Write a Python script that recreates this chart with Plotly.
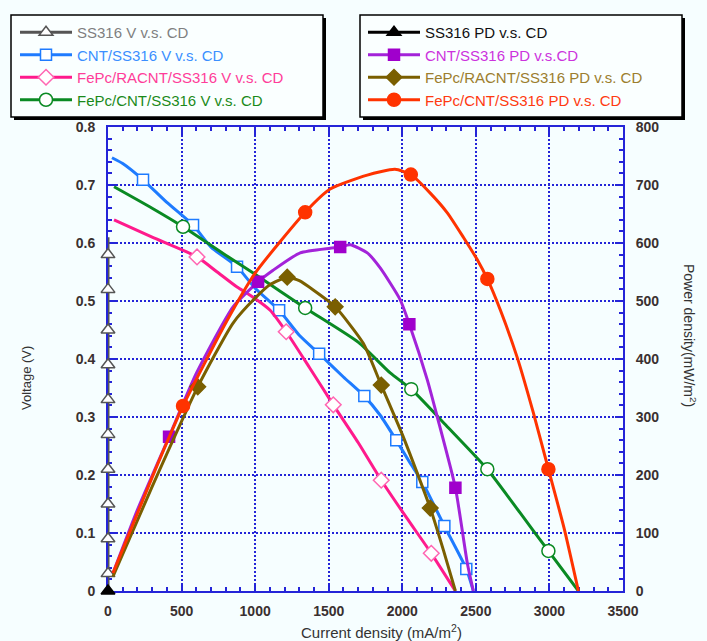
import plotly.graph_objects as go

# ---------------- data ----------------
ss_v_x = [0, 0, 0, 0, 0, 0, 0, 0, 0, 0, 0, 0]
ss_v_y = [0.0, 0.03, 0.09, 0.15, 0.21, 0.27, 0.33, 0.39, 0.45, 0.52, 0.58, 0.61]
ss_v_mx = [0, 0, 0, 0, 0, 0, 0, 0, 0, 0]
ss_v_my = [0.03, 0.09, 0.15, 0.21, 0.27, 0.33, 0.39, 0.45, 0.52, 0.58]

cnt_v_x = [27, 100, 238, 400, 578, 700, 877, 1000, 1163, 1300, 1435, 1600, 1742, 1850, 1959, 2050, 2136, 2286, 2435, 2483]
cnt_v_y = [0.747, 0.737, 0.709, 0.670, 0.631, 0.593, 0.559, 0.522, 0.484, 0.441, 0.409, 0.369, 0.336, 0.303, 0.260, 0.222, 0.188, 0.112, 0.038, 0.0]
cnt_v_mx = [238, 578, 877, 1163, 1435, 1742, 1959, 2136, 2286, 2435]
cnt_v_my = [0.709, 0.631, 0.559, 0.484, 0.409, 0.336, 0.260, 0.188, 0.112, 0.038]

ra_v_x = [41, 300, 605, 742, 877, 966, 1102, 1211, 1370, 1531, 1700, 1857, 2030, 2197, 2361]
ra_v_y = [0.640, 0.610, 0.576, 0.550, 0.524, 0.510, 0.484, 0.447, 0.385, 0.321, 0.256, 0.191, 0.126, 0.065, 0.0]
ra_v_mx = [605, 1211, 1531, 1857, 2197]
ra_v_my = [0.576, 0.447, 0.321, 0.191, 0.065]

fc_v_x = [41, 300, 510, 800, 1000, 1340, 1700, 1918, 2061, 2300, 2578, 2800, 2993, 3197]
fc_v_y = [0.697, 0.660, 0.628, 0.579, 0.546, 0.488, 0.429, 0.376, 0.348, 0.285, 0.210, 0.135, 0.069, 0.0]
fc_v_mx = [510, 1340, 2061, 2578, 2993]
fc_v_my = [0.628, 0.488, 0.348, 0.210, 0.069]

ss_pd_x = [0]
ss_pd_y = [0]

cnt_pd_x = [34, 200, 415, 600, 850, 1020, 1122, 1306, 1510, 1578, 1646, 1762, 1850, 1986, 2048, 2170, 2238, 2361, 2442, 2483]
cnt_pd_y = [31, 140, 266, 375, 490, 533, 553, 583, 591, 593, 597, 583, 557, 502, 460, 364, 300, 178, 48, 0]
cnt_pd_mx = [415, 1020, 1578, 2048, 2361]
cnt_pd_my = [266, 533, 593, 460, 178]

ra_pd_x = [34, 300, 610, 850, 1000, 1100, 1218, 1300, 1395, 1544, 1735, 1857, 2000, 2190, 2280, 2361]
ra_pd_y = [25, 180, 352, 462, 505, 528, 541, 535, 519, 490, 427, 355, 270, 143, 70, 0]
ra_pd_mx = [610, 1218, 1544, 1857, 2190]
ra_pd_my = [352, 541, 490, 355, 143]

fc_pd_x = [34, 300, 510, 800, 1000, 1340, 1510, 1762, 1950, 2058, 2190, 2306, 2415, 2510, 2578, 2667, 2782, 2891, 2993, 3100, 3197]
fc_pd_y = [31, 196, 319, 462, 548, 653, 693, 717, 727, 718, 686, 652, 610, 571, 538, 484, 402, 307, 210, 108, 0]
fc_pd_mx = [510, 1340, 2058, 2578, 2993]
fc_pd_my = [319, 653, 718, 538, 210]

x_ticks = [0, 500, 1000, 1500, 2000, 2500, 3000, 3500]

# ---------------- geometry helpers (pixels -> paper) ----------------
W, H = 707, 641
L, R, T, B = 108, 623, 127, 591


def px(x):
    return (x - L) / (R - L)


def py(y):
    return (B - y) / (B - T)


FONT = "Arial, Liberation Sans, sans-serif"
BG = "#F6FEFF"
AX = "#2424D8"

fig = go.Figure()

series = [
    # name, text colour, x, y, mx, my, line colour, symbol, fill, marker line colour, size, axis, legend
    ("SS316 V v.s. CD", "#7F7F7F", ss_v_x, ss_v_y, ss_v_mx, ss_v_my, "#555555", "triangle-up", "#FFFFFF", "#555555", 12, "y", "legend"),
    ("CNT/SS316 V v.s. CD", "#3B8FFF", cnt_v_x, cnt_v_y, cnt_v_mx, cnt_v_my, "#1E7BFF", "square", "#FFFFFF", "#1E7BFF", 11, "y", "legend"),
    ("FePc/RACNT/SS316 V v.s. CD", "#FF3D99", ra_v_x, ra_v_y, ra_v_mx, ra_v_my, "#FF1A8C", "diamond", "#FFFFFF", "#FF66B2", 12, "y", "legend"),
    ("FePc/CNT/SS316 V v.s. CD", "#1A8A1A", fc_v_x, fc_v_y, fc_v_mx, fc_v_my, "#0A8A23", "circle", "#FFFFFF", "#0A8A23", 13, "y", "legend"),
    ("SS316 PD v.s. CD", "#111111", ss_pd_x, ss_pd_y, ss_pd_x, ss_pd_y, "#000000", "triangle-up", "#000000", "#000000", 12, "y2", "legend2"),
    ("CNT/SS316 PD v.s.CD", "#CC33DD", cnt_pd_x, cnt_pd_y, cnt_pd_mx, cnt_pd_my, "#A323D9", "square", "#A000CC", "#A000CC", 11, "y2", "legend2"),
    ("FePc/RACNT/SS316 PD v.s. CD", "#9C7E2E", ra_pd_x, ra_pd_y, ra_pd_mx, ra_pd_my, "#7A5F00", "diamond", "#7A5F00", "#7A5F00", 12, "y2", "legend2"),
    ("FePc/CNT/SS316 PD v.s. CD", "#FF3A10", fc_pd_x, fc_pd_y, fc_pd_mx, fc_pd_my, "#FF3300", "circle", "#FF3300", "#FF3300", 13, "y2", "legend2"),
]

for name, tcol, x, y, mx, my, lcol, sym, fill, mlcol, size, ax, leg in series:
    if len(x) > 1:
        fig.add_trace(go.Scatter(
            x=x, y=y, mode="lines", yaxis=ax, showlegend=False, cliponaxis=False,
            line=dict(color=lcol, width=3, shape="spline", smoothing=0.55),
            hoverinfo="skip"))
    fig.add_trace(go.Scatter(
        x=mx, y=my, mode="markers", yaxis=ax, showlegend=False, cliponaxis=False,
        marker=dict(symbol=sym, size=size, color=fill, line=dict(color=mlcol, width=1.5))))
    fig.add_trace(go.Scatter(
        x=[None], y=[None], mode="lines+markers", yaxis=ax, legend=leg,
        name=f'<span style="color:{tcol}">{name}</span>',
        line=dict(color=lcol, width=3),
        marker=dict(symbol=sym, size=size, color=fill, line=dict(color=mlcol, width=1.5))))

# legend boxes (shadow + frame)
shapes = []
for (x0, y0, x1, y1) in [(11, 15, 323, 117), (360, 15, 682, 117)]:
    shapes.append(dict(type="rect", xref="paper", yref="paper", layer="above",
                       x0=px(x0 + 3), x1=px(x1 + 3), y0=py(y1 + 3), y1=py(y0 + 3),
                       fillcolor="#000000", line=dict(width=0)))
    shapes.append(dict(type="rect", xref="paper", yref="paper", layer="above",
                       x0=px(x0), x1=px(x1), y0=py(y1), y1=py(y0),
                       fillcolor="#FAFFFF", line=dict(color="#000000", width=1.5)))

annotations = [
    dict(text="Voltage (V)", xref="paper", yref="paper", x=px(26), y=py(378),
         showarrow=False, textangle=-90, font=dict(family=FONT, size=13, color="#333333"),
         xanchor="center", yanchor="middle"),
    dict(text="Power density(mW/m<sup>2</sup>)", xref="paper", yref="paper", x=px(690), y=py(335),
         showarrow=False, textangle=90, font=dict(family=FONT, size=14, color="#333333"),
         xanchor="center", yanchor="middle"),
    dict(text="Current density (mA/m<sup>2</sup>)", xref="paper", yref="paper", x=px(381), y=py(631),
         showarrow=False, font=dict(family=FONT, size=15, color="#333333"),
         xanchor="center", yanchor="middle"),
]

tickfont = dict(family=FONT, size=14, color="#3A3030", weight="bold")

fig.update_layout(
    width=W, height=H,
    margin=dict(l=L, r=W - R, t=T, b=H - B, pad=0),
    paper_bgcolor=BG, plot_bgcolor=BG,
    shapes=shapes, annotations=annotations,
    legend=dict(x=px(15), y=py(16), xanchor="left", yanchor="top", bgcolor="rgba(0,0,0,0)",
                borderwidth=0, itemwidth=52, font=dict(family=FONT, size=15), tracegroupgap=0),
    legend2=dict(x=px(363), y=py(16), xanchor="left", yanchor="top", bgcolor="rgba(0,0,0,0)",
                 borderwidth=0, itemwidth=52, font=dict(family=FONT, size=15), tracegroupgap=0),
    xaxis=dict(range=[0, 3500], tickvals=x_ticks, ticks="inside", ticklen=8, tickwidth=2,
               tickcolor=AX, showline=True, linecolor=AX, linewidth=2, mirror="ticks",
               showgrid=True, gridcolor=AX, gridwidth=1.5, griddash="2px,2px",
               zeroline=False, tickfont=tickfont, ticklabelstandoff=6, layer="below traces",
               minor=dict(dtick=100, ticks="inside", ticklen=4, tickwidth=1.5, tickcolor=AX, showgrid=False)),
    yaxis=dict(range=[0, 0.8], dtick=0.1, ticks="inside", ticklen=8, tickwidth=2,
               tickcolor=AX, showline=True, linecolor=AX, linewidth=2,
               showgrid=True, gridcolor=AX, gridwidth=1.5, griddash="2px,2px",
               zeroline=False, tickfont=tickfont, ticklabelstandoff=8, layer="below traces",
               minor=dict(dtick=0.02, ticks="inside", ticklen=4, tickwidth=1.5, tickcolor=AX, showgrid=False)),
    yaxis2=dict(range=[0, 800], dtick=100, overlaying="y", side="right", ticks="inside", ticklen=8,
                tickwidth=2, tickcolor=AX, showline=True, linecolor=AX, linewidth=2,
                showgrid=False, zeroline=False, tickfont=tickfont, ticklabelstandoff=8,
                minor=dict(dtick=20, ticks="inside", ticklen=4, tickwidth=1.5, tickcolor=AX, showgrid=False)),
)

fig.write_html("out.html")
